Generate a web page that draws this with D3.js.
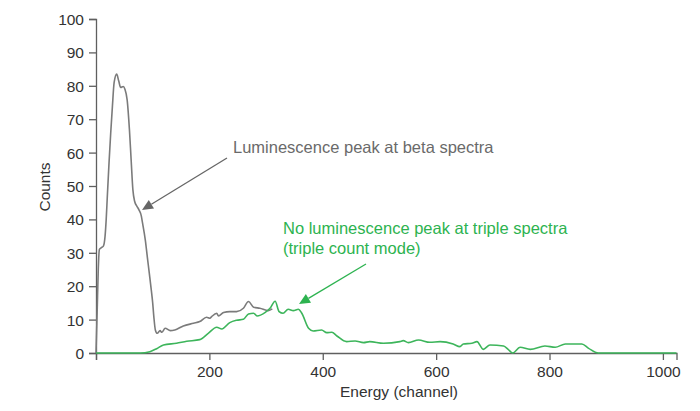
<!DOCTYPE html>
<html><head><meta charset="utf-8">
<script src="https://cdn.jsdelivr.net/npm/d3@7"></script>
<style>
html,body{margin:0;padding:0;background:#fff;}
svg{display:block;font-family:"Liberation Sans",Arial,Helvetica,sans-serif;}
</style></head>
<body><svg id="chart" width="700" height="411"></svg>
<script>
// Data: [energy channel, counts]
const betaSpectrum = [
 [0,0],[2,12],[4,25],[6,31],[9,31.5],[13,32],[16,35],[18,40],[20,47],[23,57],[26,66],[29,74],[32,81],
 [36.5,83.5],[40,81.5],[43.5,79.5],[48,79.8],[51,79],[55,75.7],[59,66.8],[62,57.8],[65,49],[68,45.5],
 [72,44],[76,42.8],[80,41],[82,39],[87,33.8],[90.5,28.8],[94,23.9],[97.5,18.9],[100,15],[102,10.9],
 [104.7,6.9],[108,5.9],[113,6.7],[116,6.2],[122,7.4],[131,6.7],[139,6.9],[154,8.1],[172,8.9],[183,9.4],
 [195,10.7],[201,10.4],[204,10.9],[213,11.9],[216,11.1],[225,12.1],[236,12.4],[248,12.4],[260,13.4],
 [269,15.4],[278,13.7],[289,13.4],[304,12.7],[311,13.2]
];
const tripleSpectrum = [
 [0,0],[60,0],[78,0],[95,0.4],[107,1.3],[119,2.4],[142,2.9],[160,3.5],[183,4.0],[198,5.9],[213,7.7],
 [222,7.2],[236,9.1],[248,9.8],[260,10.1],[269,11.7],[278,11.9],[284,11.1],[298,12.1],[307,13.4],
 [316,15.5],[323,12.4],[330,11.9],[339,13.1],[348,12.7],[357,13.1],[363,11.9],[375,7.4],[383,6.6],
 [398,6.9],[407,6.1],[416,6.2],[425,5.1],[442,3.4],[457,3.6],[472,3.1],[483,3.4],[507,2.9],[536,3.4],
 [542,3.7],[551,3.1],[569,3.9],[589,3.2],[607,3.4],[630,2.7],[642,1.9],[648,2.7],[663,2.9],[672,3.4],
 [683,1.1],[695,2.4],[719,2.1],[727,1.1],[735,0],[748,1.7],[766,1.1],[792,2.1],[810,1.7],[828,2.7],
 [857,2.7],[869,1.4],[886,0],[950,0],[1024,0]
];
const xTicks = [0,200,400,600,800,1000];
const yTicks = [0,10,20,30,40,50,60,70,80,90,100];
const xTitle = "Energy (channel)";
const yTitle = "Counts";
const betaNote = "Luminescence peak at beta spectra";
const tripleNote = ["No luminescence peak at triple spectra","(triple count mode)"];

const svg = d3.select("#chart");
const x = d3.scaleLinear().domain([0,1024]).range([96,676.5]);
const y = d3.scaleLinear().domain([0,100]).range([353,19]);
const axisColor = "#5f5f5f", textColor = "#333";

// axes
const xAxis = svg.append("g").attr("transform","translate(0,353)")
  .call(d3.axisBottom(x).tickValues(xTicks).tickSize(7).tickPadding(6).tickFormat(d=>d===0?"":d));
const yAxis = svg.append("g").attr("transform","translate(96,0)")
  .call(d3.axisLeft(y).tickValues(yTicks).tickSize(7).tickPadding(5));
[xAxis,yAxis].forEach(g=>{
  g.select(".domain").attr("stroke",axisColor).attr("stroke-width",1.3);
  g.selectAll(".tick line").attr("stroke",axisColor).attr("stroke-width",1.3);
  g.selectAll(".tick text").attr("fill",textColor).style("font-size","15.5px").style("font-family","Liberation Sans, Arial, sans-serif");
});
yAxis.selectAll(".tick text").attr("dy","0.36em");

svg.append("text").attr("x",399).attr("y",397).attr("text-anchor","middle")
  .attr("fill",textColor).style("font-size","15.5px").text(xTitle);
svg.append("text").attr("transform","translate(50,187) rotate(-90)").attr("text-anchor","middle")
  .attr("fill",textColor).style("font-size","15.5px").text(yTitle);

const line = d3.line().x(d=>x(d[0])).y(d=>y(d[1])).curve(d3.curveMonotoneX);
svg.append("path").datum(betaSpectrum).attr("d",line).attr("fill","none")
  .attr("stroke","#7b7b7b").attr("stroke-width",1.6).attr("stroke-linejoin","round");
svg.append("path").datum(tripleSpectrum).attr("d",line).attr("fill","none")
  .attr("stroke","#3db55b").attr("stroke-width",1.6).attr("stroke-linejoin","round");

// annotations
function arrow(x1,y1,x2,y2,color){
  const ang = Math.atan2(y2-y1,x2-x1), L=11, W=5;
  const bx = x2 - L*Math.cos(ang), by = y2 - L*Math.sin(ang);
  svg.append("line").attr("x1",x1).attr("y1",y1).attr("x2",bx).attr("y2",by)
    .attr("stroke",color).attr("stroke-width",1.3);
  const px = -Math.sin(ang)*W, py = Math.cos(ang)*W;
  svg.append("path").attr("d",`M${x2},${y2}L${bx+px},${by+py}L${bx-px},${by-py}Z`).attr("fill",color);
}
arrow(227,158,142,210,"#666");
arrow(366,264,299,304,"#2db350");

svg.append("text").attr("x",233).attr("y",152.5).attr("fill","#6a6a6a")
  .style("font-size","16.5px").text(betaNote);
svg.append("g").selectAll("text").data(tripleNote).join("text")
  .attr("x",283).attr("y",(d,i)=>234+i*19.5).attr("fill","#2db350")
  .style("font-size","16.5px").text(d=>d);
</script></body></html>
